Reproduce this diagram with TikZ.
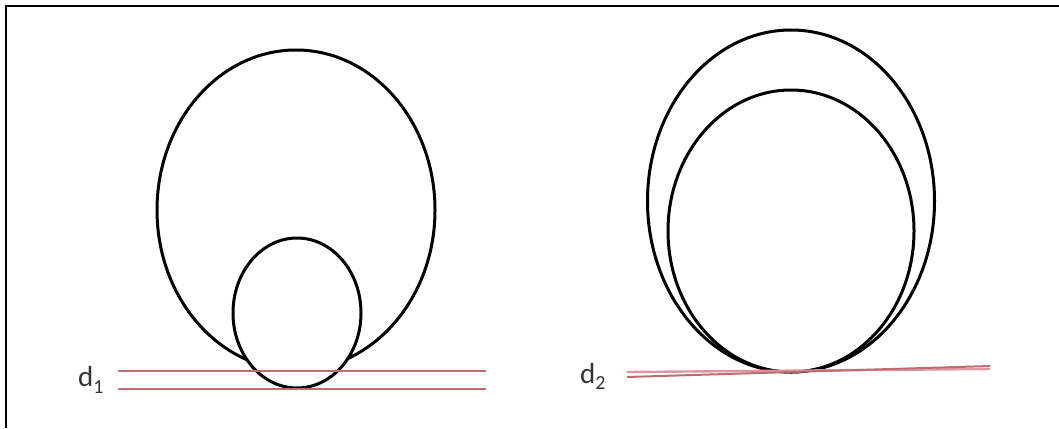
\documentclass[tikz,border=0pt]{standalone}
\usepackage{fontspec}
\setmainfont{Carlito}
\definecolor{lred}{RGB}{190,108,116}
\definecolor{lpink}{RGB}{224,150,160}
\begin{document}
\begin{tikzpicture}[x=1pt,y=-1pt,
  curve/.style={line width=3pt, draw=black},
  redline/.style={line width=2pt, draw=lred},
  pinkline/.style={line width=2.4pt, draw=lpink},
  lbl/.style={anchor=base west, inner sep=0pt, font=\fontsize{29}{29}\selectfont, text=black!80}]
\useasboundingbox (0,0) rectangle (1059,428);
\draw[line width=2.2pt] (6,428) -- (6,6) -- (1059,6);
% left figure
\draw[curve] (296,210) ellipse [x radius=139pt, y radius=160pt];
\draw[curve, fill=white] (297,313) ellipse [x radius=64pt, y radius=75pt];
\coordinate (a1) at (118,371); \coordinate (b1) at (486,371);
\coordinate (a2) at (118,389); \coordinate (b2) at (486,389);
\draw[redline] (a1) -- (b1);
\draw[redline] (a2) -- (b2);
\node[lbl] (d1) at (78,386) {d\raisebox{-7pt}{\fontsize{20}{20}\selectfont 1}};
% right figure
\draw[curve] (791,201) ellipse [x radius=143.5pt, y radius=171pt];
\draw[curve] (791,231) ellipse [x radius=123pt, y radius=141pt];
\coordinate (c1) at (627,372); \coordinate (e1) at (990,369);
\coordinate (c2) at (627,377); \coordinate (e2) at (990,366);
\draw[pinkline] (c1) -- (e1);
\draw[redline] (c2) -- (e2);
\node[lbl] (d2) at (580,383) {d\raisebox{-6pt}{\fontsize{20}{20}\selectfont 2}};
\end{tikzpicture}
\end{document}
